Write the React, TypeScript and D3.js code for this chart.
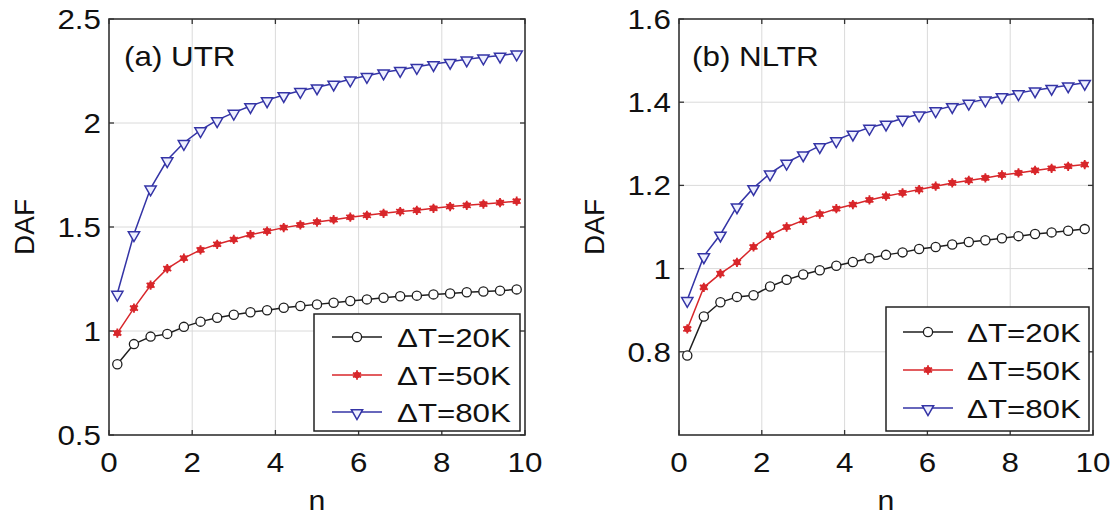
import * as d3 from "d3";
import * as React from "react";

// n values shared by every series
const nValues = [0.2, 0.6, 1.0, 1.4, 1.8, 2.2, 2.6, 3.0, 3.4, 3.8, 4.2, 4.6, 5.0, 5.4, 5.8, 6.2, 6.6, 7.0, 7.4, 7.8, 8.2, 8.6, 9.0, 9.4, 9.8];

// (a) UTR
const utr20 = [0.84, 0.937, 0.973, 0.986, 1.02, 1.045, 1.064, 1.078, 1.09, 1.1, 1.112, 1.12, 1.128, 1.136, 1.144, 1.152, 1.16, 1.167, 1.17, 1.176, 1.18, 1.186, 1.19, 1.194, 1.2];
const utr50 = [0.99, 1.11, 1.22, 1.3, 1.35, 1.39, 1.417, 1.44, 1.463, 1.48, 1.497, 1.51, 1.524, 1.535, 1.547, 1.556, 1.566, 1.574, 1.58, 1.59, 1.598, 1.604, 1.61, 1.617, 1.624];
const utr80 = [1.18, 1.466, 1.686, 1.822, 1.905, 1.966, 2.014, 2.05, 2.082, 2.11, 2.135, 2.155, 2.172, 2.19, 2.21, 2.227, 2.244, 2.256, 2.27, 2.284, 2.295, 2.306, 2.316, 2.325, 2.335];

// (b) NLTR
const nltr20 = [0.791, 0.885, 0.919, 0.932, 0.936, 0.957, 0.973, 0.986, 0.996, 1.007, 1.016, 1.025, 1.033, 1.039, 1.047, 1.052, 1.058, 1.064, 1.068, 1.073, 1.078, 1.083, 1.087, 1.091, 1.095];
const nltr50 = [0.855, 0.955, 0.988, 1.015, 1.052, 1.08, 1.1, 1.116, 1.131, 1.144, 1.154, 1.165, 1.174, 1.182, 1.19, 1.198, 1.206, 1.212, 1.218, 1.225, 1.23, 1.236, 1.241, 1.246, 1.25];
const nltr80 = [0.925, 1.03, 1.082, 1.15, 1.194, 1.229, 1.255, 1.275, 1.295, 1.309, 1.325, 1.339, 1.349, 1.361, 1.371, 1.381, 1.391, 1.399, 1.407, 1.415, 1.422, 1.429, 1.435, 1.441, 1.447];

const legendLabels = ["\u0394T=20K", "\u0394T=50K", "\u0394T=80K"];
const xTicks = [0, 2, 4, 6, 8, 10];
const utrTicks = [0.5, 1, 1.5, 2, 2.5];
const nltrTicks = [0.8, 1, 1.2, 1.4, 1.6];

const font = "Liberation Sans, Arial, sans-serif";
const colors = ["#1e1e1e", "#d8262a", "#3434a6"];

// the source figure is a little stretched sideways, so widen the text
function Label({ x, y, size, sx = 1.12, anchor = "start", children }) {
  return (
    <text transform={`translate(${x},${y}) scale(${sx},1)`} fontSize={size} textAnchor={anchor}>
      {children}
    </text>
  );
}

function Marker({ kind, x, y }) {
  if (kind === 0) {
    return <circle cx={x} cy={y} r={4.6} fill="#fff" stroke={colors[0]} strokeWidth={1.3} />;
  }
  if (kind === 1) {
    return (
      <g transform={`translate(${x},${y})`}>
        <circle r={3.3} fill={colors[1]} />
        <path d={d3.symbol(d3.symbolAsterisk, 60)()} stroke={colors[1]} strokeWidth={1.8} fill="none" />
      </g>
    );
  }
  return (
    <path
      transform={`translate(${x},${y + 1}) rotate(180)`}
      d={d3.symbol(d3.symbolTriangle, 55)()}
      fill="#eef0ff"
      stroke={colors[2]}
      strokeWidth={1.5}
    />
  );
}

function Panel({ left, right, domain, yTicks, series, title, titleX, legend, tickFormat }) {
  const top = 19;
  const bottom = 435;
  const x = d3.scaleLinear().domain([0, 10]).range([left, right]);
  const y = d3.scaleLinear().domain(domain).range([bottom, top]);
  const line = d3
    .line<number>()
    .x((_, i) => x(nValues[i]))
    .y((d) => y(d));
  const tickLen = 5;
  return (
    <g fontFamily={font} fill="#111">
      {/* grid */}
      {xTicks.slice(1, -1).map((t) => (
        <line key={"gx" + t} x1={x(t)} x2={x(t)} y1={top} y2={bottom} stroke="#dadada" strokeWidth={1} />
      ))}
      {yTicks.filter((t) => y(t) > top + 1 && y(t) < bottom - 1).map((t) => (
        <line key={"gy" + t} x1={left} x2={right} y1={y(t)} y2={y(t)} stroke="#dadada" strokeWidth={1} />
      ))}
      {/* inner ticks on four sides */}
      {xTicks.map((t) => (
        <g key={"tx" + t} stroke="#333" strokeWidth={1.3}>
          <line x1={x(t)} x2={x(t)} y1={bottom} y2={bottom - tickLen} />
          <line x1={x(t)} x2={x(t)} y1={top} y2={top + tickLen} />
        </g>
      ))}
      {yTicks.map((t) => (
        <g key={"ty" + t} stroke="#333" strokeWidth={1.3}>
          <line x1={left} x2={left + tickLen} y1={y(t)} y2={y(t)} />
          <line x1={right} x2={right - tickLen} y1={y(t)} y2={y(t)} />
        </g>
      ))}
      {/* series */}
      {series.map((s, k) => (
        <g key={"s" + k}>
          <path d={line(s)} fill="none" stroke={colors[k]} strokeWidth={1.5} />
          {s.map((v, i) => (
            <Marker key={i} kind={k} x={x(nValues[i])} y={y(v)} />
          ))}
        </g>
      ))}
      {/* box */}
      <rect x={left} y={top} width={right - left} height={bottom - top} fill="none" stroke="#333" strokeWidth={1.6} />
      {/* tick labels */}
      {xTicks.map((t) => (
        <Label key={"lx" + t} x={x(t)} y={472} size={28} anchor="middle">
          {t}
        </Label>
      ))}
      {yTicks.map((t) => (
        <Label key={"ly" + t} x={left - 8} y={y(t) + 10} size={28} anchor="end">
          {tickFormat(t)}
        </Label>
      ))}
      <Label x={(left + right) / 2} y={510} size={28} anchor="middle" sx={1.08}>
        n
      </Label>
      <text transform={`translate(${left - 75},${(top + bottom) / 2}) rotate(-90)`} fontSize={28} textAnchor="middle">
        DAF
      </text>
      <Label x={titleX} y={66} size={28}>
        {title}
      </Label>
      {/* legend */}
      <g>
        <rect x={legend.x0} y={legend.y0} width={legend.x1 - legend.x0} height={legend.y1 - legend.y0} fill="#fff" stroke="#222" strokeWidth={1.5} />
        {legendLabels.map((lab, k) => (
          <g key={lab}>
            <line x1={legend.lx0} x2={legend.lx0 + 50} y1={legend.rows[k]} y2={legend.rows[k]} stroke={colors[k]} strokeWidth={1.5} />
            <Marker kind={k} x={legend.lx0 + 25} y={legend.rows[k]} />
            <Label x={legend.tx} y={legend.rows[k] + 10} size={26.5} sx={1.18}>
              {lab}
            </Label>
          </g>
        ))}
      </g>
    </g>
  );
}

export default function App() {
  return (
    <svg width={1116} height={518} style={{ position: "absolute", left: 0, top: 0, background: "#fff" }}>
      <rect width={1116} height={518} fill="#fff" />
      <Panel
        left={109}
        right={525}
        domain={[0.5, 2.5]}
        yTicks={utrTicks}
        series={[utr20, utr50, utr80]}
        title="(a) UTR"
        titleX={124}
        tickFormat={(t) => String(t)}
        legend={{ x0: 314, x1: 520, y0: 314, y1: 431, lx0: 332, tx: 397, rows: [337, 375, 412] }}
      />
      <Panel
        left={679}
        right={1093}
        domain={[0.6, 1.6]}
        yTicks={nltrTicks}
        series={[nltr20, nltr50, nltr80]}
        title="(b) NLTR"
        titleX={692}
        tickFormat={(t) => (t === 1 ? "1" : t.toFixed(1))}
        legend={{ x0: 886, x1: 1089, y0: 307, y1: 431, lx0: 903, tx: 967, rows: [332, 370, 408] }}
      />
    </svg>
  );
}
